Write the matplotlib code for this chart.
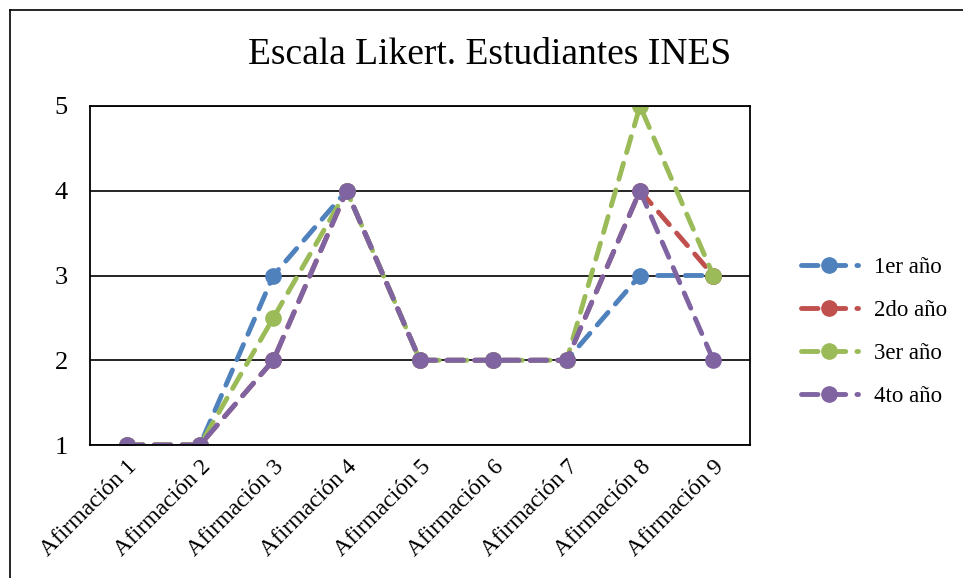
import matplotlib
matplotlib.use("Agg")
import matplotlib.pyplot as plt
from matplotlib.lines import Line2D

categories = ["Afirmación 1", "Afirmación 2", "Afirmación 3", "Afirmación 4", "Afirmación 5",
              "Afirmación 6", "Afirmación 7", "Afirmación 8", "Afirmación 9"]
series_names = ["1er año", "2do año", "3er año", "4to año"]
s1 = [1, 1, 3, 4, 2, 2, 2, 3, 3]
s2 = [1, 1, 2, 4, 2, 2, 2, 4, 3]
s3 = [1, 1, 2.5, 4, 2, 2, 2, 5, 3]
s4 = [1, 1, 2, 4, 2, 2, 2, 4, 2]
yticks = [1, 2, 3, 4, 5]
colors = ["#4F81BD", "#C0504D", "#9BBB59", "#8064A2"]
title = "Escala Likert. Estudiantes INES"

plt.rcParams['font.family'] = ['Liberation Serif', 'DejaVu Serif']

W, H = 963, 578
fig = plt.figure(figsize=(W / 100, H / 100), dpi=100)

# outer chart border (left & top visible)
fig.add_artist(Line2D([10 / W, 10 / W], [0, 1 - 10 / H], color="black", lw=1.2, transform=fig.transFigure))
fig.add_artist(Line2D([10 / W, 1], [1 - 10 / H, 1 - 10 / H], color="black", lw=1.2, transform=fig.transFigure))

ax = fig.add_axes([90 / W, 1 - 445 / H, (750 - 90) / W, (445 - 106) / H])
x = list(range(len(categories)))
ls = (0, (3.4, 2.3))
for vals, name, c in zip([s1, s2, s3, s4], series_names, colors):
    ax.plot(x, vals, color=c, lw=3.5, linestyle=ls, dash_capstyle="round",
            marker="o", markersize=11, label=name)

ax.set_xlim(-0.5, len(categories) - 0.5)
ax.set_ylim(1, 5)
ax.set_yticks(yticks)
ax.set_yticklabels([str(v) for v in yticks], fontsize=19)
ax.set_xticks(x)
ax.set_xticklabels(categories, rotation=45, ha="right", rotation_mode="anchor", fontsize=17)
ax.tick_params(axis="y", length=0, pad=16)
ax.tick_params(axis="x", length=0, pad=8)
ax.grid(axis="y", color="black", lw=1.2)
ax.set_axisbelow(True)
for sp in ax.spines.values():
    sp.set_color("black")
    sp.set_linewidth(1.3)

fig.text(490 / W, 1 - 55 / H, title, ha="center", va="center", fontsize=27)

handles = [Line2D([0], [0], color=c, lw=3.5, linestyle=ls, dash_capstyle="round",
                  marker="o", markersize=11) for c in colors]
fig.legend(handles, series_names, loc="center left", bbox_to_anchor=(780 / W, 1 - 332 / H),
           frameon=False, fontsize=16.5, handlelength=2.5, labelspacing=0.95, handletextpad=0.7)

fig.savefig("out.png", dpi=100)
